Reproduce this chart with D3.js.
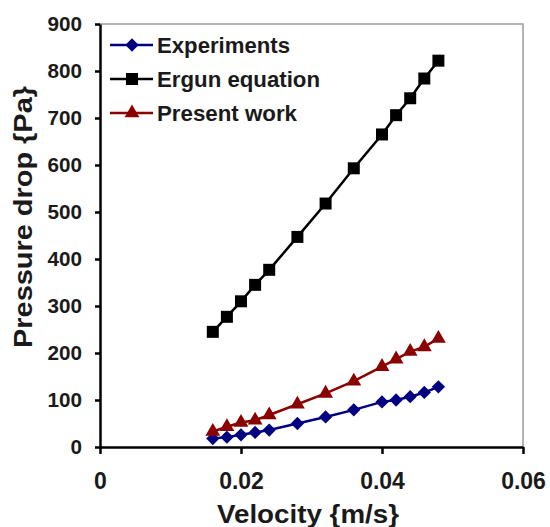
<!DOCTYPE html>
<html>
<head>
<meta charset="utf-8">
<script src="https://cdn.jsdelivr.net/npm/d3@7"></script>
<style>
  body { margin: 0; background: #fff; }
  svg { font-family: "Liberation Sans", Arial, sans-serif; }
</style>
</head>
<body>
<script>
// values
var velocity    = [0.016, 0.018, 0.020, 0.022, 0.024, 0.028, 0.032, 0.036, 0.040, 0.042, 0.044, 0.046, 0.048];
var experiments = [18, 21, 26, 31, 36, 50, 64, 79, 96, 100, 107, 116, 128];
var ergun       = [245, 277, 310, 345, 377, 447, 518, 593, 665, 706, 742, 784, 822];
var present     = [33, 43, 52, 57, 68, 91, 114, 140, 171, 187, 203, 213, 231];

var seriesNames = ["Experiments", "Ergun equation", "Present work"];
var xTicks = [0, 0.02, 0.04, 0.06];
var yTicks = [0, 100, 200, 300, 400, 500, 600, 700, 800, 900];

var width = 550, height = 527;

var svg = d3.select("body").append("svg")
    .attr("width", width).attr("height", height);

var x = d3.scaleLinear().domain([0, 0.06]).range([100, 523]);
var y = d3.scaleLinear().domain([0, 900]).range([447, 24]);

// grey frame top and right
svg.append("path")
    .attr("d", "M" + x(0) + "," + y(900) + "H" + x(0.06) + "V" + y(0))
    .attr("fill", "none").attr("stroke", "#9a9a9a").attr("stroke-width", 1.5);

var series = [
  { name: seriesNames[0], values: experiments, color: "#000080", shape: "diamond" },
  { name: seriesNames[1], values: ergun,       color: "#000000", shape: "square" },
  { name: seriesNames[2], values: present,     color: "#8b0000", shape: "triangle" }
];

function marker(shape) {
  if (shape == "square") return d3.symbol().type(d3.symbolSquare).size(144)();
  if (shape == "diamond") return d3.symbol().type(d3.symbolSquare).size(88)();
  return d3.symbol().type(d3.symbolTriangle).size(95)();
}
function markerRot(shape) { return shape == "diamond" ? " rotate(45)" : ""; }

var line = d3.line()
    .x(function(d, i) { return x(velocity[i]); })
    .y(function(d) { return y(d); });

series.forEach(function(s) {
  svg.append("path")
      .attr("d", line(s.values))
      .attr("fill", "none").attr("stroke", s.color).attr("stroke-width", 2.5);
  svg.append("g").selectAll("path").data(s.values).enter().append("path")
      .attr("d", marker(s.shape))
      .attr("transform", function(d, i) {
        return "translate(" + x(velocity[i]) + "," + y(d) + ")" + markerRot(s.shape);
      })
      .attr("fill", s.color);
});

// axes
var yAxis = d3.axisLeft(y).tickValues(yTicks).tickSize(5).tickSizeOuter(0).tickPadding(13)
    .tickFormat(d3.format("d"));
var xAxis = d3.axisBottom(x).tickValues(xTicks).tickSize(7).tickSizeOuter(0).tickPadding(19)
    .tickFormat(function(d) { return d == 0 ? "0" : d3.format(".2f")(d); });

var gy = svg.append("g").attr("transform", "translate(" + x(0) + ",0)").call(yAxis);
gy.selectAll("text").attr("font-size", 21).attr("font-weight", "bold").attr("fill", "#1a1a1a")
    .attr("font-family", null)
    .attr("textLength", function(d) { return String(d).length * 11.5; })
    .attr("lengthAdjust", "spacingAndGlyphs");

var gx = svg.append("g").attr("transform", "translate(0," + y(0) + ")").call(xAxis);
gx.selectAll("text").attr("font-size", 23).attr("font-weight", "bold").attr("fill", "#1a1a1a")
    .attr("font-family", null);

[gx, gy].forEach(function(g) {
  g.select(".domain").attr("stroke", "#000").attr("stroke-width", 2.5);
  g.selectAll(".tick line").attr("stroke", "#000").attr("stroke-width", 2.5);
});

// axis titles
svg.append("text")
    .attr("x", 308).attr("y", 523)
    .attr("text-anchor", "middle")
    .attr("font-size", 25).attr("font-weight", "bold").attr("fill", "#1a1a1a")
    .attr("textLength", 182).attr("lengthAdjust", "spacingAndGlyphs")
    .text("Velocity {m/s}");

svg.append("text")
    .attr("transform", "translate(32,217) rotate(-90)")
    .attr("text-anchor", "middle")
    .attr("font-size", 25).attr("font-weight", "bold").attr("fill", "#1a1a1a")
    .attr("textLength", 262).attr("lengthAdjust", "spacingAndGlyphs")
    .text("Pressure drop {Pa}");

// legend
var legendY = [45, 79, 113];
var legendLen = [133, 163, 140];
series.forEach(function(s, i) {
  var g = svg.append("g").attr("transform", "translate(0," + legendY[i] + ")");
  g.append("line").attr("x1", 110).attr("x2", 153)
      .attr("stroke", s.color).attr("stroke-width", 2.5);
  g.append("path").attr("d", marker(s.shape))
      .attr("transform", "translate(132,0)" + markerRot(s.shape))
      .attr("fill", s.color);
  g.append("text").attr("x", 157).attr("dy", "0.36em")
      .attr("font-size", 22).attr("font-weight", "bold").attr("fill", "#1a1a1a")
      .attr("textLength", legendLen[i]).attr("lengthAdjust", "spacingAndGlyphs")
      .text(s.name);
});
</script>
</body>
</html>
